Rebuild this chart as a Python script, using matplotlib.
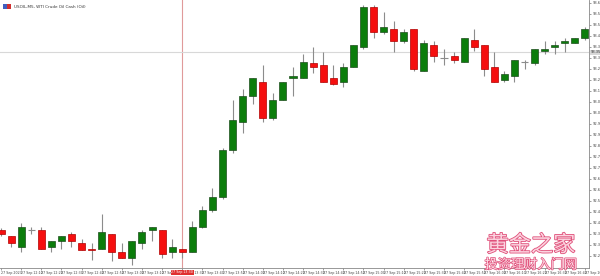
import numpy as np
import matplotlib.pyplot as plt
import matplotlib.patheffects as pe

# USOIL M5 candles
opens = [92.38, 92.35, 92.29, 92.38, 92.38, 92.29, 92.32, 92.36, 92.31, 92.28,
         92.28, 92.36, 92.26, 92.23, 92.31, 92.38, 92.38, 92.26, 92.28, 92.26,
         92.40, 92.49, 92.56, 92.82, 92.97, 93.11, 93.19, 92.99, 93.09, 93.21,
         93.21, 93.29, 93.28, 93.21, 93.19, 93.27, 93.38, 93.60, 93.46, 93.48,
         93.41, 93.48, 93.25, 93.39, 93.32, 93.33, 93.30, 93.42, 93.39, 93.27,
         93.20, 93.22, 93.30, 93.29, 93.36, 93.38, 93.40, 93.40, 93.43]
highs = [92.39, 92.35, 92.42, 92.40, 92.40, 92.32, 92.35, 92.37, 92.33, 92.31,
         92.47, 92.36, 92.31, 92.32, 92.38, 92.40, 92.38, 92.33, 92.28, 92.43,
         92.51, 92.61, 92.83, 93.09, 93.15, 93.21, 93.28, 93.13, 93.19, 93.27,
         93.34, 93.38, 93.35, 93.28, 93.29, 93.39, 93.61, 93.61, 93.57, 93.52,
         93.48, 93.48, 93.42, 93.41, 93.37, 93.35, 93.43, 93.48, 93.39, 93.35,
         93.25, 93.31, 93.31, 93.37, 93.41, 93.41, 93.43, 93.43, 93.49]
lows = [92.35, 92.29, 92.26, 92.36, 92.28, 92.26, 92.28, 92.29, 92.27, 92.22,
        92.28, 92.21, 92.23, 92.19, 92.28, 92.32, 92.23, 92.23, 92.23, 92.26,
        92.39, 92.48, 92.55, 92.80, 92.91, 93.07, 92.97, 92.98, 93.09, 93.11,
        93.21, 93.24, 93.19, 93.17, 93.16, 93.27, 93.37, 93.43, 93.45, 93.35,
        93.40, 93.25, 93.25, 93.30, 93.28, 93.29, 93.30, 93.36, 93.22, 93.19,
        93.19, 93.19, 93.26, 93.28, 93.34, 93.34, 93.35, 93.40, 93.42]
closes = [92.36, 92.31, 92.40, 92.38, 92.28, 92.32, 92.35, 92.32, 92.27, 92.27,
          92.37, 92.26, 92.23, 92.32, 92.37, 92.40, 92.25, 92.29, 92.26, 92.40,
          92.49, 92.56, 92.82, 92.98, 93.11, 93.21, 92.99, 93.09, 93.19, 93.22,
          93.30, 93.27, 93.19, 93.18, 93.27, 93.39, 93.60, 93.46, 93.49, 93.41,
          93.46, 93.26, 93.40, 93.33, 93.32, 93.31, 93.43, 93.38, 93.26, 93.19,
          93.23, 93.31, 93.30, 93.37, 93.37, 93.39, 93.41, 93.43, 93.48]

time_labels = ["27 Sep 2023"] + ["27 Sep %d:%02d" % (12 + m // 60, m % 60)
                                 for m in range(10, 300, 10)]
price_ticks = [93.62 - 0.06 * k for k in range(24)]
cross_idx = 18
cross_price = 93.35
cross_time = "27 Sep 13:30"

o = np.array(opens); h = np.array(highs); l = np.array(lows); c = np.array(closes)
x = np.arange(len(o))

fig = plt.figure(figsize=(6, 2.76), dpi=100)
fig.patch.set_facecolor('white')
ax = fig.add_axes([0, 8 / 276, 589 / 600, 268 / 276])

up = c > o
down = c < o
doji = c == o

ax.vlines(x, l, h, color='#8c8c8c', lw=0.8, zorder=2)
ax.bar(x[up], c[up] - o[up], bottom=o[up], width=0.7,
       color='#0b7d0b', edgecolor='#1d4d1d', lw=0.5, zorder=3)
ax.bar(x[down], o[down] - c[down], bottom=c[down], width=0.7,
       color='#f50f0f', edgecolor='#b00000', lw=0.5, zorder=3)
ax.hlines(o[doji], x[doji] - 0.35, x[doji] + 0.35, color='#8c8c8c', lw=0.8, zorder=3)

# crosshair
ax.axvline(cross_idx, color='#e09a9a', lw=0.8, zorder=1)
ax.axhline(cross_price, color='#d8d8d8', lw=0.8, zorder=1)

ax.set_xlim(-0.1, 58.4)
ax.set_ylim(92.1745, 93.636)

ax.set_xticks(x[::2])
ax.set_xticklabels(time_labels[:len(x[::2])], fontsize=2.3, color='#444444', ha='left')
ax.set_yticks(price_ticks)
ax.set_yticklabels(["%.2f" % p for p in price_ticks], fontsize=2.6, color='#444444')
ax.yaxis.tick_right()
ax.tick_params(axis='both', length=1.5, width=0.5, pad=1, colors='#777777')
ax.tick_params(axis='x', labelcolor='#444444')
ax.tick_params(axis='y', labelcolor='#444444')
for s in ['top', 'left']:
    ax.spines[s].set_visible(False)
for s in ['right', 'bottom']:
    ax.spines[s].set_color('#888888')
    ax.spines[s].set_linewidth(0.6)

# crosshair labels
ax.text(cross_idx - 1.1, -0.008, cross_time, transform=ax.get_xaxis_transform(),
        fontsize=2.3, color='white', va='top', ha='left', zorder=10,
        bbox=dict(boxstyle='square,pad=0.2', fc='#e03030', ec='none'), clip_on=False)
ax.text(1.003, cross_price, "%.2f" % cross_price, transform=ax.get_yaxis_transform(),
        fontsize=2.6, color='#333333', va='center', ha='left', zorder=10,
        bbox=dict(boxstyle='square,pad=0.15', fc='#d8d8d8', ec='none'), clip_on=False)

# title
fig.patches.append(plt.Rectangle((3 / 600, 1 - 9 / 276), 4 / 600, 5 / 276,
                                 transform=fig.transFigure, fc='#4060c0', ec='none'))
fig.patches.append(plt.Rectangle((7 / 600, 1 - 9 / 276), 4 / 600, 5 / 276,
                                 transform=fig.transFigure, fc='#d03030', ec='none'))
fig.text(14 / 600, 1 - 6.5 / 276, "USOIL,M5, WTI Crude Oil Cash (Oil)",
         fontsize=3, color='#333333', va='center', ha='left')

# watermark
fx = ['Noto Sans CJK SC', 'DejaVu Sans']
fig.text(531 / 600, 1 - 245 / 276, "黄金之家", family=fx, fontsize=16,
         color='#fbd3df', ha='center', va='center',
         path_effects=[pe.withStroke(linewidth=1.2, foreground='#e0507a')])
fig.text(531 / 600, 1 - 265 / 276, "投资理财入门网", family=fx, fontsize=9.5,
         color='#fbd3df', ha='center', va='center',
         path_effects=[pe.withStroke(linewidth=1.0, foreground='#e0507a')])

fig.savefig('out.png', dpi=100)
